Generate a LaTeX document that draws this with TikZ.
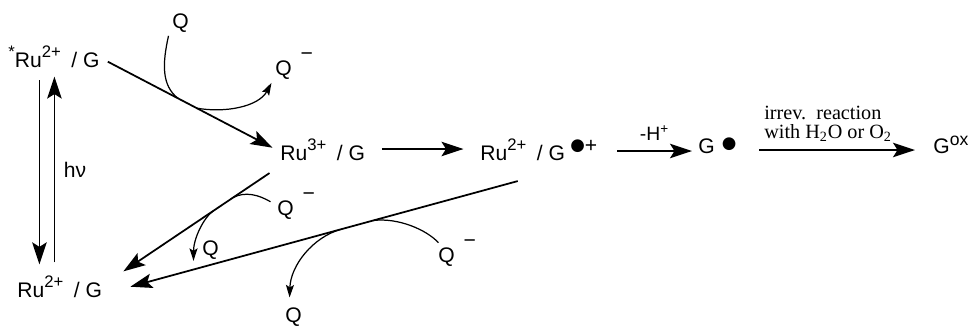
\documentclass[tikz,border=0pt]{standalone}
\usepackage{fontspec}
\setmainfont{Liberation Serif}
\setsansfont{Liberation Sans}
\newfontfamily\dotfont{DejaVu Sans}
\usetikzlibrary{arrows.meta, positioning, calc}
\newcommand{\raddot}{{\dotfont\fontsize{9.5}{9.5}\selectfont ●}}
\newcommand{\charge}[1]{\raisebox{5.2pt}{\fontsize{9.5}{9.5}\selectfont #1}}
\newcommand{\anion}{\hspace{5pt}\raisebox{0.7em}{−}}
\newcommand{\slashG}{\hspace{6pt}/ G}
\tikzset{
  species/.style={inner sep=2pt, anchor=base west, font=\sffamily\fontsize{12}{14}\selectfont},
  arrow/.style={-{Stealth[length=0.44cm, width=0.29cm, inset=0.09cm]}, line width=1pt},
  thinarrow/.style={-{Stealth[length=0.44cm, width=0.29cm, inset=0.09cm]}, line width=0.7pt},
  curly/.style={line width=0.7pt},
  curlyarrow/.style={-{Stealth[length=0.25cm, width=0.16cm, inset=0.05cm]}, line width=0.7pt}
}

\begin{document}
\begin{tikzpicture}[x=0.02cm, y=-0.02cm]
  \useasboundingbox (0,0) rectangle (971,326);

  % Ru / G species
  \node[species] (exc) at (4.5,67) {\charge{*}Ru\charge{2+}\slashG};
  \node[species] (gs) at (13.5,297) {Ru\charge{2+}\slashG};
  \node[species] (ru3) at (276.5,160) {Ru\charge{3+}\slashG};
  \node[species] (rug) at (476.5,160) {Ru\charge{2+}\slashG\hspace{3pt}\raisebox{5.4pt}{\raddot}\raisebox{4.5pt}{+}};
  \node[species] (gd) at (694.5,153) {G\hspace{4pt}\raisebox{2.6pt}{\raddot}};
  \node[species] (gox) at (929.5,153) {G\raisebox{4.5pt}{\fontsize{10}{10}\selectfont ox}};

  % quencher
  \node[species] (qa) at (168.5,28) {Q};
  \node[species] (qb) at (271.5,75) {Q\anion};
  \node[species] (qc) at (273.5,215) {Q\anion};
  \node[species] (qd) at (198.5,255) {Q};
  \node[species] (qe) at (434.5,262) {Q\anion};
  \node[species] (qf) at (281.5,322) {Q};

  % excitation / decay
  \draw[arrow] ($(exc.south)+(-14.5,9)$) -- ($(exc.south |- gs.north)+(-14.5,-8)$);
  \draw[thinarrow] ($(exc.south |- gs.north)+(0.5,-10)$) -- ($(exc.south)+(0.5,5.5)$)
    node[midway, right=3pt, inner sep=2pt, font=\sffamily\fontsize{12}{14}\selectfont] (hv) {hν};

  % electron transfer steps
  \draw[arrow] ($(exc.east)+(4.5,5)$) -- coordinate[pos=0.427] (t1) coordinate[pos=0.54] (t2) ($(ru3.west)+(-4,-2)$);
  \draw[arrow] ($(ru3.base east)+(13,-11)$) -- ($(ru3.base east -| rug.base west)+(-13,-11)$);
  \draw[arrow] ($(rug.base east)+(16,-9)$) -- ($(rug.base east -| gd.base west)+(-2.5,-9)$)
    node[midway, above=2pt, font=\sffamily\fontsize{11}{12}\selectfont] (hloss) {-H\textsuperscript{+}};
  \draw[arrow] ($(gd.base east)+(19,-3)$) -- ($(gd.base east -| gox.base west)+(-14.5,-3)$)
    node[midway, above=1pt, xshift=-0.18cm, align=left, font=\rmfamily\fontsize{11.5}{11}\selectfont] (cond) {irrev.\ \ reaction\\with H\textsubscript{2}O or O\textsubscript{2}};

  % back electron transfer
  \draw[arrow] ($(ru3.south west)+(-7,9)$) -- coordinate[pos=0.247] (t3) coordinate[pos=0.384] (t4) ($(gs.north east)+(17.5,-1)$);
  \draw[arrow] ($(rug.south)+(-21,17)$) -- coordinate[pos=0.373] (t5) coordinate[pos=0.457] (t6) ($(gs.east)+(24.5,0)$);

  % curly arrows
  \draw[curly] (qa.south west) .. controls +(-6,27) and +(-17,-13) .. (t1);
  \draw[curlyarrow] (t2) .. controls +(28,5) and +(-13,24) .. (qb.south west);
  \draw[curly] ($(qc.west)+(-3,-4)$) .. controls +(-12,-7) and +(12,-6) .. (t3);
  \draw[curlyarrow] (t4) .. controls +(-10,7) and +(0,-22) .. ($(qd.south west)+(-5,-2)$);
  \draw[curly] ($(qe.west)+(4,-10)$) .. controls +(-12,-13) and +(25,-3) .. (t5);
  \draw[curlyarrow] (t6) .. controls +(-28,8) and +(1,-32) .. ($(qf.north)+(-4,-6)$);
\end{tikzpicture}
\end{document}
